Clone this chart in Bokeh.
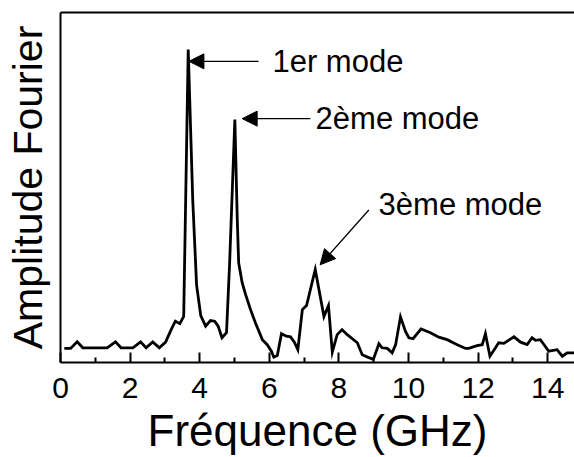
from bokeh.plotting import figure
from bokeh.models import (LinearAxis, FixedTicker, Label, Arrow, NormalHead,
                          ColumnDataSource)
from bokeh.embed import file_html
from bokeh.resources import INLINE

# Fourier spectrum (normalised amplitude) versus frequency in GHz
freq = [0.11, 0.29, 0.48, 0.64, 1.34, 1.58, 1.74, 2.08, 2.30, 2.46, 2.65, 2.84,
        3.02, 3.18, 3.30, 3.43, 3.54, 3.67, 3.80, 3.91, 4.03, 4.17, 4.31, 4.43,
        4.53, 4.64, 4.77, 4.86, 5.01, 5.08, 5.12, 5.22, 5.32, 5.46, 5.60, 5.80,
        5.94, 6.06, 6.13, 6.23, 6.35, 6.49, 6.61, 6.72, 6.82, 6.95, 7.07, 7.32,
        7.57, 7.70, 7.81, 7.95, 8.09, 8.24, 8.53, 8.67, 8.81, 8.99, 9.15, 9.24,
        9.39, 9.53, 9.63, 9.77, 9.91, 10.01, 10.13, 10.36, 10.63, 10.87, 11.11,
        11.40, 11.64, 11.73, 11.97, 12.12, 12.21, 12.34, 12.50, 12.59, 12.74,
        13.03, 13.22, 13.41, 13.55, 13.65, 13.79, 14.03, 14.27, 14.42, 14.56,
        14.75, 15.00]
amp = [0.045, 0.045, 0.066, 0.047, 0.047, 0.066, 0.047, 0.047, 0.066, 0.047,
       0.066, 0.047, 0.065, 0.105, 0.132, 0.124, 0.147, 1.000, 0.519, 0.248,
       0.150, 0.116, 0.134, 0.132, 0.116, 0.079, 0.095, 0.318, 0.776, 0.455,
       0.318, 0.255, 0.217, 0.169, 0.127, 0.073, 0.057, 0.036, 0.017, 0.022,
       0.092, 0.084, 0.082, 0.065, 0.041, 0.169, 0.182, 0.297, 0.147, 0.182,
       0.033, 0.089, 0.105, 0.089, 0.063, 0.025, 0.018, 0.010, 0.060, 0.047,
       0.045, 0.031, 0.057, 0.146, 0.100, 0.079, 0.076, 0.107, 0.095, 0.081,
       0.073, 0.057, 0.045, 0.045, 0.054, 0.057, 0.092, 0.020, 0.047, 0.063,
       0.061, 0.082, 0.065, 0.057, 0.079, 0.071, 0.073, 0.036, 0.041, 0.020,
       0.031, 0.031, 0.031]

major_ticks = [0, 2, 4, 6, 8, 10, 12, 14]
minor_ticks = [1, 3, 5, 7, 9, 11, 13]

# Mode annotations: text, arrow tail (x, y), arrow tip (x, y), text anchor (x, y)
mode_names = ["1er mode", "2ème mode", "3ème mode"]
tail_x = [5.69, 7.18, 8.86]
tail_y = [0.962, 0.779, 0.487]
tip_x = [3.69, 5.22, 7.46]
tip_y = [0.962, 0.779, 0.312]
text_x = [6.09, 7.33, 9.14]
text_y = [0.962, 0.779, 0.505]

FONT = "Liberation Sans"

p = figure(width=574, height=457, x_range=(0, 14.77), y_range=(0, 1.118),
           output_backend="svg", toolbar_location=None,
           min_border_left=60, min_border_right=0, min_border_top=12,
           min_border_bottom=94)
p.outline_line_color = None
p.xgrid.visible = False
p.ygrid.visible = False
p.background_fill_color = "white"
p.border_fill_color = "white"

# bottom axis, ticks pointing inward
xa = p.xaxis[0]
xa.ticker = FixedTicker(ticks=major_ticks, minor_ticks=minor_ticks)
xa.axis_line_width = 2
xa.major_tick_in = 10
xa.major_tick_out = 0
xa.minor_tick_in = 5
xa.minor_tick_out = 0
xa.major_tick_line_width = 2
xa.minor_tick_line_width = 2
xa.major_label_text_font = FONT
xa.major_label_text_font_size = "30px"
xa.major_label_text_color = "black"
xa.major_label_standoff = 15
xa.axis_label = "Fréquence (GHz)"
xa.axis_label_text_font = FONT
xa.axis_label_text_font_size = "44px"
xa.axis_label_text_font_style = "normal"
xa.axis_label_text_color = "black"
xa.axis_label_standoff = 5

# left axis: only the line and the title
ya = p.yaxis[0]
ya.ticker = FixedTicker(ticks=[])
ya.major_tick_line_color = None
ya.minor_tick_line_color = None
ya.major_label_text_font_size = "0px"
ya.axis_line_width = 2
ya.axis_label = "Amplitude Fourier"
ya.axis_label_text_font = FONT
ya.axis_label_text_font_size = "41px"
ya.axis_label_text_font_style = "normal"
ya.axis_label_text_color = "black"
ya.axis_label_standoff = 10

# top frame line
top = LinearAxis(ticker=FixedTicker(ticks=[]), major_label_text_font_size="0px",
                 major_tick_line_color=None, minor_tick_line_color=None,
                 axis_line_width=2)
p.add_layout(top, "above")

src = ColumnDataSource(data=dict(freq=freq, amp=amp))
p.line("freq", "amp", source=src, line_color="black", line_width=2.8,
       line_join="miter")

for name, x0, y0, x1, y1, tx, ty in zip(mode_names, tail_x, tail_y, tip_x,
                                        tip_y, text_x, text_y):
    p.add_layout(Arrow(end=NormalHead(size=15, fill_color="black",
                                      line_color="black", line_width=1),
                       x_start=x0, y_start=y0, x_end=x1, y_end=y1,
                       line_color="black", line_width=1.3))
    p.add_layout(Label(x=tx, y=ty, text=name, text_font=FONT,
                       text_font_size="31px", text_baseline="middle",
                       text_align="left", text_color="black"))

open("out.html", "w").write(file_html(p, INLINE))
